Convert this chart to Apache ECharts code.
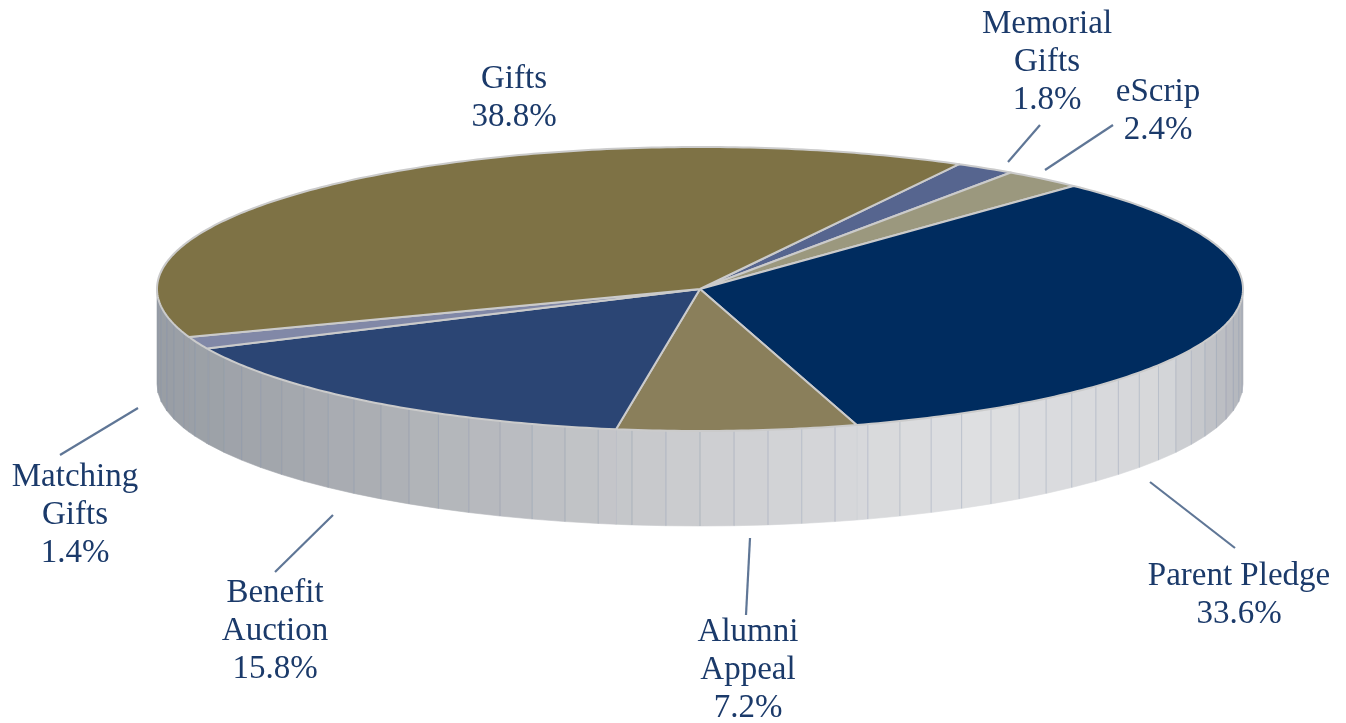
<!DOCTYPE html>
<html>
<head>
<meta charset="utf-8">
<script src="https://cdn.jsdelivr.net/npm/echarts@6/dist/echarts.min.js"></script>
<style>
  html, body { margin: 0; padding: 0; background: #fff; }
  #chart { width: 1346px; height: 723px; }
</style>
</head>
<body>
<div id="chart"></div>
<script>
// 数据
const categories = ['Memorial\nGifts', 'eScrip', 'Parent Pledge', 'Alumni\nAppeal', 'Benefit\nAuction', 'Matching\nGifts', 'Gifts'];
const percents = [1.8, 2.4, 33.6, 7.2, 15.8, 1.4, 38.8];

// 样式
const sliceColors = ['#56658f', '#9b987e', '#002c5f', '#8a7f5b', '#2b4574', '#8188a7', '#7e7245'];
const textColor = '#1b3a6a';
const leaderColor = '#5f7696';

// 标签位置（文字中心 + 引线），按 1346x723 画布
const labelCenters = [[1047, 62], [1158, 111], [1239, 595], [748, 670], [275, 631], [75, 515], [514, 98]];
const leaders = [[1040, 125, 1008, 162], [1113, 125, 1045, 170], [1150, 482, 1235, 548],
                 [750, 538, 746, 615], [333, 515, 275, 572], [138, 408, 60, 455], null];

const startAngle = -61.5; // 第一块的起始角（度，顺时针）
const facetStep = 3.6;    // 侧面分面宽度

// 计算每块的角度范围
const total = percents.reduce((a, b) => a + b, 0);
const sliceAngles = [];
let acc = startAngle;
percents.forEach(v => {
    const span = v / total * 360;
    sliceAngles.push([acc, acc + span]);
    acc += span;
});

// 侧面灰度（按 cos 值插值）
const shadeStops = [
    [-1, [152, 157, 164]], [-0.6, [172, 175, 180]], [0, [205, 206, 209]],
    [0.5, [222, 223, 225]], [0.85, [214, 215, 218]], [1, [178, 181, 187]]
];
function sideShade(c) {
    for (let k = 1; k < shadeStops.length; k++) {
        if (c <= shadeStops[k][0]) {
            const [x0, c0] = shadeStops[k - 1], [x1, c1] = shadeStops[k];
            const f = (c - x0) / (x1 - x0);
            const rgb = c0.map((v, j) => Math.round(v + (c1[j] - v) * f));
            return `rgb(${rgb.join(',')})`;
        }
    }
    return 'rgb(178,181,187)';
}

function frontParts(a0, a1) {
    const parts = [];
    for (let k = -1; k <= 1; k++) {
        const lo = Math.max(a0, k * 360), hi = Math.min(a1, k * 360 + 180);
        if (hi > lo) parts.push([lo, hi]);
    }
    return parts;
}

const chart = echarts.init(document.getElementById('chart'));

function renderItem(params, api) {
    const i = params.dataIndex;
    const s = api.getWidth() / 1346;
    const cx = 700 * s, cy = 289 * s, rx = 543 * s, ry = 142 * s, depth = 95 * s;
    const rad = d => d * Math.PI / 180;
    const top = d => [cx + rx * Math.cos(rad(d)), cy + ry * Math.sin(rad(d))];
    const bot = d => [cx + rx * Math.cos(rad(d)), cy + ry * Math.sin(rad(d)) + depth];
    const [a0, a1] = sliceAngles[i];
    const children = [];

    // 侧面
    frontParts(a0, a1).forEach(([lo, hi]) => {
        const cuts = [lo];
        let g = Math.ceil(lo / facetStep + 1e-6) * facetStep;
        while (g < hi - 1e-6) { cuts.push(g); g += facetStep; }
        cuts.push(hi);
        for (let k = 0; k < cuts.length - 1; k++) {
            const t1 = cuts[k], t2 = cuts[k + 1];
            const col = sideShade(Math.cos(rad((t1 + t2) / 2)));
            children.push({
                type: 'polygon',
                shape: { points: [top(t1), top(t2), bot(t2), bot(t1)] },
                style: { fill: col, stroke: col, lineWidth: 0.6 }
            });
        }
        for (let k = 1; k < cuts.length; k++) {
            const t = cuts[k];
            if (k === cuts.length - 1 && (t % 180 === 0)) continue;
            children.push({
                type: 'line',
                shape: { x1: top(t)[0], y1: top(t)[1], x2: bot(t)[0], y2: bot(t)[1] },
                style: { stroke: 'rgba(120,136,165,0.32)', lineWidth: 1 }
            });
        }
    });

    // 顶面
    const pts = [[cx, cy]];
    const n = Math.max(2, Math.ceil((a1 - a0) / 0.8));
    for (let k = 0; k <= n; k++) pts.push(top(a0 + (a1 - a0) * k / n));
    children.push({
        type: 'polygon',
        shape: { points: pts },
        style: { fill: sliceColors[i], stroke: '#cbcbcb', lineWidth: 2, lineJoin: 'round' }
    });

    // 引线与标签
    const ld = leaders[i];
    if (ld) {
        children.push({
            type: 'line',
            shape: { x1: ld[0] * s, y1: ld[1] * s, x2: ld[2] * s, y2: ld[3] * s },
            style: { stroke: leaderColor, lineWidth: 2.2 }
        });
    }
    children.push({
        type: 'text',
        style: {
            text: categories[i] + '\n' + percents[i].toFixed(1) + '%',
            x: labelCenters[i][0] * s, y: labelCenters[i][1] * s,
            align: 'center', verticalAlign: 'middle',
            fontFamily: '"Liberation Serif", serif', fontSize: 33 * s,
            lineHeight: 38 * s, fill: textColor
        }
    });

    return { type: 'group', children };
}

chart.setOption({
    animation: false,
    series: [{
        type: 'custom',
        coordinateSystem: 'none',
        renderItem: renderItem,
        data: percents.map((v, i) => ({ name: categories[i], value: [v] }))
    }]
});

window.addEventListener('resize', () => chart.resize());
</script>
</body>
</html>
